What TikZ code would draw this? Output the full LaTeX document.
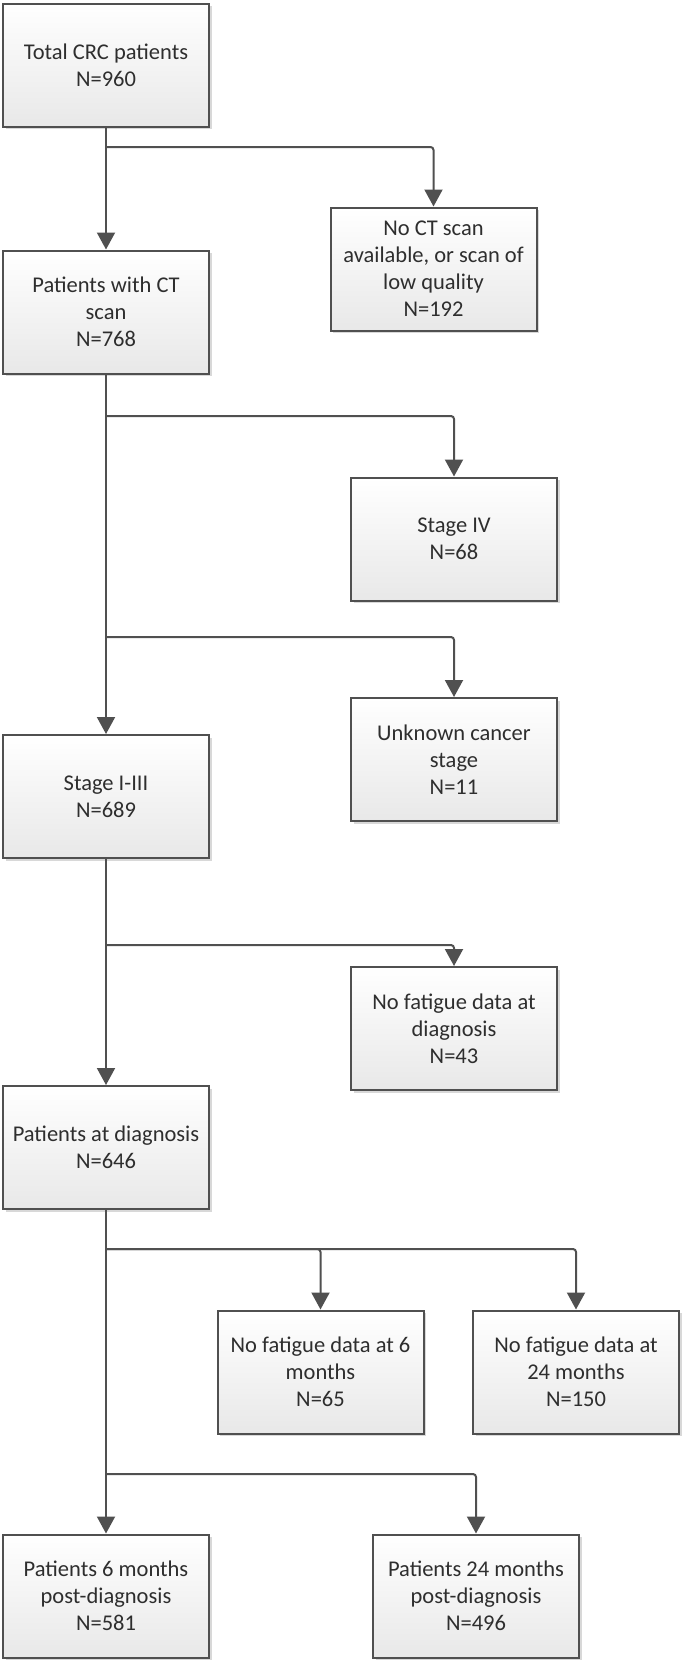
\documentclass[tikz,border=0pt]{standalone}
\usepackage{fontspec}
\setmainfont{Carlito}
\usetikzlibrary{arrows.meta,shadows}
\definecolor{linegray}{HTML}{505050}
\definecolor{textgray}{HTML}{2E2E2E}
\tikzset{
  flowbox/.style={draw=linegray, line width=2pt, rectangle,
    minimum width=206pt, minimum height=123pt, inner sep=2pt,
    align=center, text=textgray,
    top color=white, bottom color=black!9,
    drop shadow={shadow xshift=2.5pt, shadow yshift=-2.5pt, fill=black!30, opacity=0.5},
    font=\fontsize{22.5}{27}\selectfont},
  conn/.style={draw=linegray, line width=2pt, rounded corners=3pt,
    -{Triangle[length=17pt,width=18pt]}}
}
\begin{document}
\begin{tikzpicture}[x=1pt,y=-1pt]
\useasboundingbox (0,0) rectangle (685,1668);
\node[flowbox] (n1)  at (106,65)     {Total CRC patients\\N=960};
\node[flowbox] (nct) at (433.5,269)  {No CT scan\\available, or scan of\\low quality\\N=192};
\node[flowbox] (n2)  at (106,312)    {Patients with CT\\scan\\N=768};
\node[flowbox] (s4)  at (454,539)    {Stage IV\\N=68};
\node[flowbox] (unk) at (454,759.5)  {Unknown cancer\\stage\\N=11};
\node[flowbox] (n3)  at (106,796.5)  {Stage I-III\\N=689};
\node[flowbox] (nfd) at (454,1028.5) {No fatigue data at\\diagnosis\\N=43};
\node[flowbox] (n4)  at (106,1147.5) {Patients at diagnosis\\N=646};
\node[flowbox] (m6)  at (320.5,1372) {No fatigue data at 6\\months\\N=65};
\node[flowbox] (m24) at (576,1372)   {No fatigue data at\\24 months\\N=150};
\node[flowbox] (p6)  at (106,1596)   {Patients 6 months\\post-diagnosis\\N=581};
\node[flowbox] (p24) at (476,1596)   {Patients 24 months\\post-diagnosis\\N=496};
\coordinate (b1) at (106,147);
\coordinate (b2) at (106,416);
\coordinate (b3) at (106,637);
\coordinate (b4) at (106,945);
\coordinate (b5) at (106,1249);
\coordinate (b6) at (106,1474);
\draw[conn] (n1.south) -- (n2.north);
\draw[conn] (b1) -| (nct.north);
\draw[conn] (n2.south) -- (n3.north);
\draw[conn] (b2) -| (s4.north);
\draw[conn] (b3) -| (unk.north);
\draw[conn] (n3.south) -- (n4.north);
\draw[conn] (b4) -| (nfd.north);
\draw[conn] (n4.south) -- (p6.north);
\draw[conn] (b5) -| (m6.north);
\draw[conn] (b5) -| (m24.north);
\draw[conn] (b6) -| (p24.north);
\end{tikzpicture}
\end{document}
